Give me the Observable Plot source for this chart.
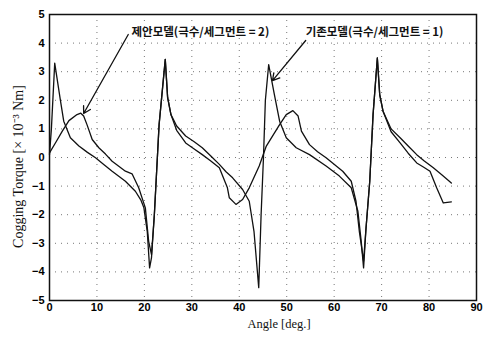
<!DOCTYPE html>
<html><head><meta charset="utf-8">
<script src="https://cdn.jsdelivr.net/npm/d3@7"></script>
<script src="https://cdn.jsdelivr.net/npm/@observablehq/plot@0.6"></script>
<style>body{margin:0;background:#fff}</style>
</head><body><div id="chart"></div>
<script>
// 기존모델 (극수/세그먼트 = 1)
const conventionalAngle = [0,0.4,1.1,2.3,3.0,4.4,6.2,8.0,9.7,11.5,13.2,16.0,18.1,19.3,19.9,20.6,21.1,21.5,22.1,23.1,24.4,24.9,25.6,26.8,28.7,30.5,32.2,34.0,35.8,37.2,38.6,40.7,42.1,43.1,44.1,44.6,45.1,45.5,46.2,47.4,48.5,49.9,52.0,54.8,58.3,61.1,63.6,65.0,65.7,66.2,66.7,67.5,68.2,69.1,69.6,70.3,72.0,73.9,75.6,77.4,79.0,80.9,82.8,84.7];
const conventionalTorque = [0.1,1.0,3.3,2.0,1.27,0.69,0.40,0.18,-0.01,-0.25,-0.48,-0.83,-1.18,-1.5,-1.76,-2.58,-3.86,-3.5,-2.0,1.15,3.43,2.09,1.5,1.1,0.75,0.55,0.34,0.05,-0.24,-0.5,-0.71,-1.12,-1.53,-2.58,-4.55,-2.0,0.0,2.0,3.25,2.2,1.27,0.69,0.34,0.10,-0.30,-0.65,-1.06,-1.88,-2.93,-3.86,-2.5,-0.83,1.5,3.48,2.2,1.62,1.0,0.69,0.40,0.10,-0.12,-0.36,-0.62,-0.89];
// 제안모델 (극수/세그먼트 = 2)
const proposedAngle = [0,1.4,2.7,4.1,5.8,6.6,7.2,7.9,9.0,10.4,11.8,13.2,16.0,17.4,18.8,20.2,20.9,21.5,22.1,23.1,24.4,24.9,25.6,26.8,28.7,30.5,32.2,34.0,35.8,37.5,37.9,39.3,40.7,42.1,44.2,45.7,48.5,49.9,51.3,52.4,53.1,54.8,56.5,58.3,61.8,63.6,64.6,65.3,66.2,66.7,67.5,68.2,69.1,69.6,70.3,72.0,73.9,75.6,77.4,78.8,80.2,81.6,83.0,84.7];
const proposedTorque = [0.16,0.55,0.92,1.29,1.5,1.55,1.45,1.15,0.63,0.34,0.12,-0.13,-0.48,-0.57,-1.06,-1.76,-2.93,-3.4,-2.0,1.15,3.43,2.09,1.5,0.95,0.51,0.3,0.10,-0.12,-0.36,-1.06,-1.41,-1.64,-1.47,-1.06,-0.3,0.40,1.15,1.5,1.64,1.45,0.92,0.45,0.2,-0.01,-0.48,-0.83,-1.53,-2.58,-3.62,-2.5,-0.83,1.5,3.48,2.2,1.62,0.9,0.51,0.15,-0.19,-0.33,-0.48,-1.06,-1.59,-1.55];

const xTicks = [0,10,20,30,40,50,60,70,80,90];
const yTicks = [-5,-4,-3,-2,-1,0,1,2,3,4,5];
const xGrid = [10,20,30,40,50,60,70,80];
const yGrid = [-4,-3,-2,-1,0,1,2,3,4];
const xLabel = "Angle [deg.]";
const yLabel = "Cogging Torque [× 10⁻³ Nm]";

const labelText = ["제안모델(극수/세그먼트 = 2)", "기존모델(극수/세그먼트 = 1)"];
const labelX = [31.8, 68.5];
const labelY = [4.37, 4.37];
const arrowX1 = [16.6, 54.0];
const arrowY1 = [4.3, 4.09];
const arrowX2 = [7.2, 47.0];
const arrowY2 = [1.54, 2.69];

const conventional = conventionalAngle.map((a, i) => ({angle: a, torque: conventionalTorque[i]}));
const proposed = proposedAngle.map((a, i) => ({angle: a, torque: proposedTorque[i]}));
const labels = labelText.map((t, i) => ({text: t, x: labelX[i], y: labelY[i]}));
const arrows = arrowX1.map((v, i) => ({x1: v, y1: arrowY1[i], x2: arrowX2[i], y2: arrowY2[i]}));

const chart = Plot.plot({
  width: 489,
  height: 337,
  marginLeft: 49,
  marginRight: 13,
  marginTop: 14,
  marginBottom: 37,
  style: {background: "#fff", color: "#000"},
  x: {domain: [0, 90]},
  y: {domain: [-5, 5]},
  marks: [
    Plot.gridX(xGrid, {stroke: "#777", strokeOpacity: 1, strokeDasharray: "1,5"}),
    Plot.gridY(yGrid, {stroke: "#777", strokeOpacity: 1, strokeDasharray: "1,5"}),
    Plot.axisX({ticks: xTicks, tickSize: 0, tickPadding: 3, fontSize: 11, fontWeight: "bold", fontFamily: "Liberation Sans, Arial, sans-serif", label: null}),
    Plot.axisY({ticks: yTicks, tickSize: 0, tickPadding: 5, fontSize: 11, fontWeight: "bold", fontFamily: "Liberation Sans, Arial, sans-serif", label: null}),
    Plot.line(conventional, {x: "angle", y: "torque", stroke: "#111", strokeWidth: 1.3}),
    Plot.line(proposed, {x: "angle", y: "torque", stroke: "#111", strokeWidth: 1.3}),
    Plot.arrow(arrows, {x1: "x1", y1: "y1", x2: "x2", y2: "y2", stroke: "#111", strokeWidth: 1.3, headLength: 9}),
    Plot.text(labels, {x: "x", y: "y", text: "text", fontSize: 11.5, fontWeight: "bold", fontFamily: "Noto Sans CJK KR, sans-serif", fill: "#111"}),
    Plot.text([xLabel], {text: d => d, frameAnchor: "bottom", textAnchor: "middle", dy: 27, dx: 16, fontSize: 12.5, fontFamily: "Liberation Serif, serif", fill: "#111"}),
    Plot.text([yLabel], {text: d => d, frameAnchor: "left", textAnchor: "middle", lineAnchor: "middle", rotate: -90, dx: -31, dy: 9, fontSize: 14, fontFamily: "Liberation Serif, serif", fill: "#111"}),
    Plot.frame({stroke: "#111", strokeWidth: 1.5})
  ]
});
document.getElementById("chart").appendChild(chart);
</script>
</body></html>
